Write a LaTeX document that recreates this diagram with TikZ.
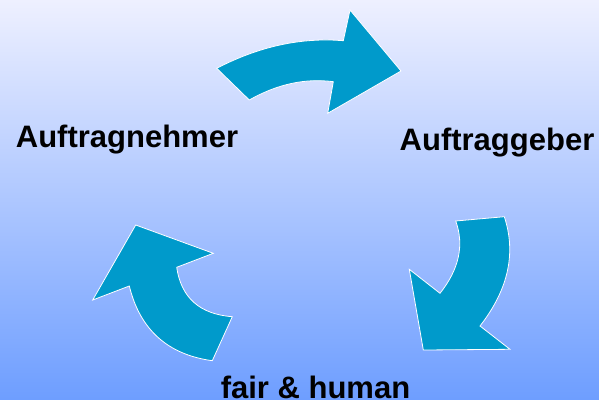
\documentclass[tikz,border=0pt]{standalone}
\usepackage{fontspec}
\setmainfont{Liberation Sans}
\definecolor{bgtop}{RGB}{238,240,255}
\definecolor{bgbottom}{RGB}{110,158,255}
\definecolor{arrowblue}{RGB}{0,154,203}

\begin{document}
\begin{tikzpicture}[x=1pt, y=-1pt,
	bentarrow/.style={fill=arrowblue, draw=white, line width=0.8pt, line join=miter},
	label/.style={font=\fontsize{31}{31}\selectfont\bfseries, anchor=base, inner sep=0pt}]
	\useasboundingbox (0,0) rectangle (599,399);
	\shade[top color=bgtop, bottom color=bgbottom] (0,0) rectangle (599,399);

	% top arrow
	\draw[bentarrow] (216.7,68.3) -- (249.3,100)
		.. controls (277.3,84.1) and (305.3,78.0) .. (333.3,81.7)
		-- (327.7,113.3) -- (401,71) -- (350,10) -- (343.3,40.7)
		.. controls (301.1,37.2) and (258.9,46.4) .. cycle;
	% right arrow
	\draw[bentarrow] (455.7,221) -- (504.3,216.7)
		.. controls (516.4,253.2) and (508.3,289.6) .. (480,326)
		-- (510,349.3) -- (423.3,350) -- (409.3,269.3) -- (440,293.3)
		.. controls (459.1,269.2) and (464.4,245.1) .. cycle;
	% left arrow
	\draw[bentarrow] (232.3,316.7) -- (212.3,360.7)
		.. controls (167.7,354.6) and (140,329.7) .. (129.3,286)
		-- (92.7,300) -- (135.7,225) -- (213.3,253.3) -- (176.7,267.3)
		.. controls (181.2,297.8) and (199.8,314.2) .. cycle;

	\node[label] (nehmer) at (127,147.3) {Auftragnehmer};
	\node[label] (geber) at (497,150) {Auftraggeber};
	\node[label] (fair) at (315.5,398) {fair \& human};
\end{tikzpicture}
\end{document}
